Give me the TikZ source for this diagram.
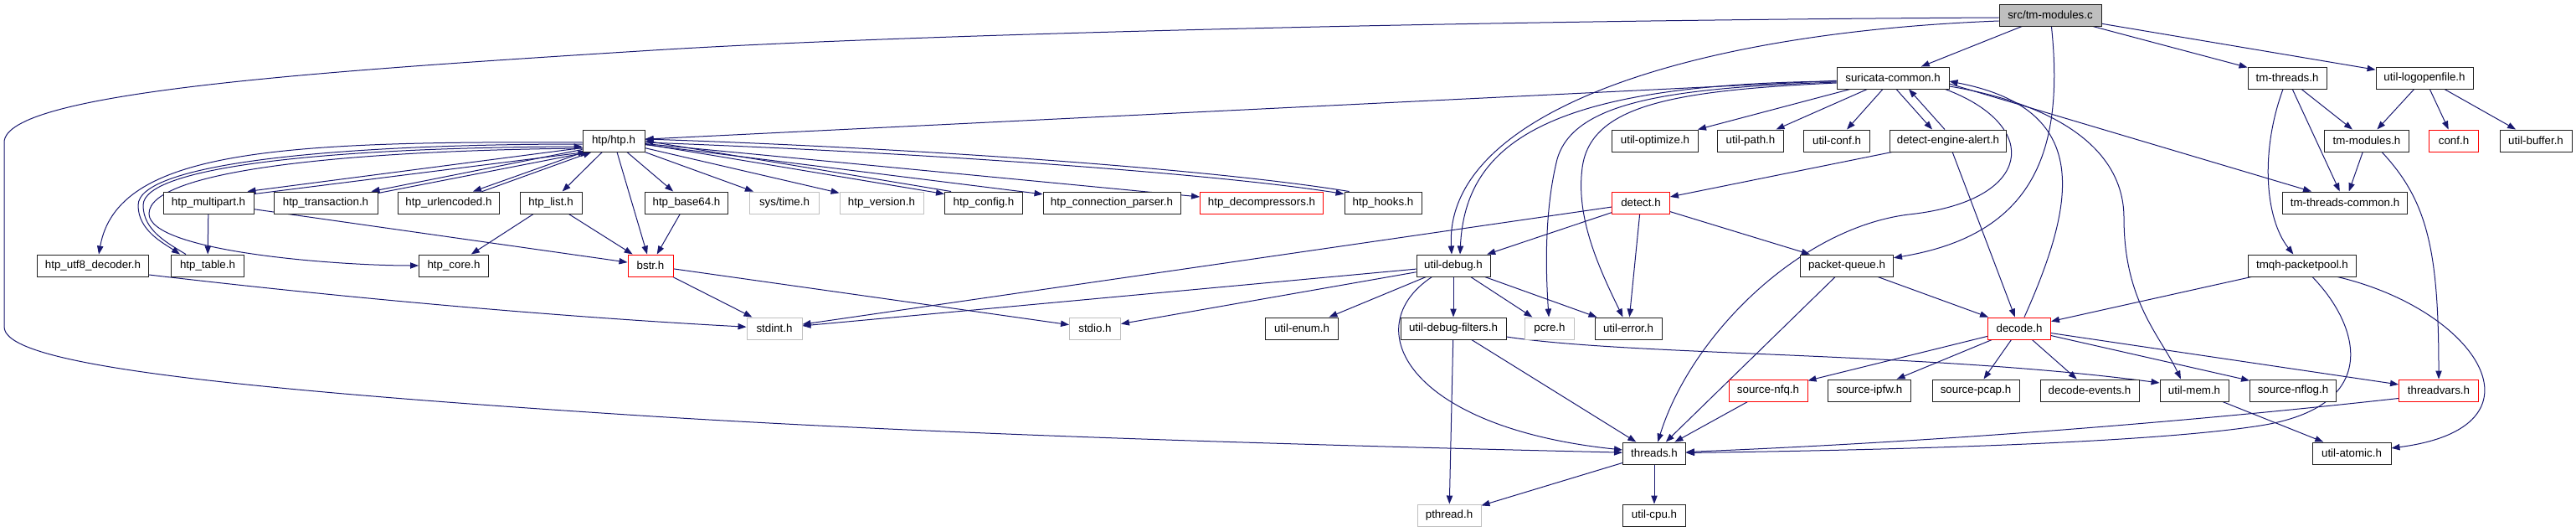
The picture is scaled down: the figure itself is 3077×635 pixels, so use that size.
\documentclass[tikz,border=0pt]{standalone}
\usepackage{fontspec}
\setmainfont{Liberation Sans}
\usetikzlibrary{arrows.meta,calc}
\definecolor{edgec}{HTML}{191970}
\definecolor{grayb}{HTML}{BFBFBF}
\definecolor{boxb}{HTML}{202020}
\pgfdeclarelayer{bg}
\pgfsetlayers{bg,main}
\begin{document}
\begin{tikzpicture}[x=0.75pt,y=-0.75pt,
  nb/.style={draw=boxb, line width=0.7pt, fill=white, minimum width=#1*0.75pt,
    minimum height=19.5pt, inner sep=0pt, font=\fontsize{10}{12}\selectfont},
  rb/.style={nb=#1, draw=red},
  gb/.style={nb=#1, draw=grayb},
  e/.style={draw=edgec, line width=0.75pt, -{Triangle[length=7.5pt,width=5.5pt]}}]
\useasboundingbox (0,0) rectangle (3077,635);
% row 0
\node[nb=122, fill=grayb] (root) at (2449,18) {src/tm-modules.c};
% row 1
\node[nb=134] (sc) at (2261,93) {suricata-common.h};
\node[nb=94] (tmt) at (2732,93) {tm-threads.h};
\node[nb=116] (ulo) at (2896,93) {util-logopenfile.h};
% row 2
\node[nb=74] (htp) at (733,168) {htp/htp.h};
\node[nb=103] (uopt) at (1977,168) {util-optimize.h};
\node[nb=79] (upath) at (2091,168) {util-path.h};
\node[nb=79] (uconf) at (2194,168) {util-conf.h};
\node[nb=139] (dea) at (2327,168) {detect-engine-alert.h};
\node[nb=101] (tmm) at (2827,168) {tm-modules.h};
\node[rb=59] (conf) at (2931,168) {conf.h};
\node[nb=86] (ubuf) at (3029,168) {util-buffer.h};
% row 3
\node[nb=108] (mp) at (249,242) {htp\_multipart.h};
\node[nb=124] (tr) at (389,242) {htp\_transaction.h};
\node[nb=121] (uenc) at (536,242) {htp\_urlencoded.h};
\node[nb=74] (hlist) at (658,242) {htp\_list.h};
\node[nb=99] (b64) at (820,242) {htp\_base64.h};
\node[gb=83] (systime) at (937,242) {sys/time.h};
\node[gb=100] (hver) at (1053,242) {htp\_version.h};
\node[nb=93] (hcfg) at (1175,242) {htp\_config.h};
\node[nb=164] (hcp) at (1328,242) {htp\_connection\_parser.h};
\node[rb=147] (hdec) at (1507,242) {htp\_decompressors.h};
\node[nb=92] (hhooks) at (1652,242) {htp\_hooks.h};
\node[rb=69] (det) at (1960,242) {detect.h};
\node[nb=149] (ttc) at (2801,242) {tm-threads-common.h};
% row 4
\node[nb=133] (utf8) at (111,317) {htp\_utf8\_decoder.h};
\node[nb=87] (tab) at (248,317) {htp\_table.h};
\node[nb=83] (core) at (542,317) {htp\_core.h};
\node[rb=54] (bstr) at (777,317) {bstr.h};
\node[nb=88] (ud) at (1736,317) {util-debug.h};
\node[nb=111] (pq) at (2206,317) {packet-queue.h};
\node[nb=129] (tmqh) at (2750,317) {tmqh-packetpool.h};
% row 5
\node[gb=66] (stdint) at (925,392) {stdint.h};
\node[gb=61] (stdio) at (1308,392) {stdio.h};
\node[nb=87] (uenum) at (1555,392) {util-enum.h};
\node[nb=126] (udf) at (1736,392) {util-debug-filters.h};
\node[gb=59] (pcre) at (1851,392) {pcre.h};
\node[nb=80] (uerr) at (1945,392) {util-error.h};
\node[rb=75] (dec) at (2412,392) {decode.h};
% row 6
\node[rb=94] (nfq) at (2112,466) {source-nfq.h};
\node[nb=99] (ipfw) at (2233,466) {source-ipfw.h};
\node[nb=104] (pcap) at (2360,466) {source-pcap.h};
\node[nb=118] (devents) at (2496,466) {decode-events.h};
\node[nb=82] (umem) at (2621,466) {util-mem.h};
\node[nb=103] (nflog) at (2739,466) {source-nflog.h};
\node[rb=95] (tv) at (2913,466) {threadvars.h};
% row 7
\node[nb=75] (thr) at (1976,541) {threads.h};
\node[nb=94] (uatom) at (2809,541) {util-atomic.h};
% row 8
\node[gb=76] (pth) at (1731,615) {pthread.h};
\node[nb=75] (ucpu) at (1976,615) {util-cpu.h};

\begin{pgfonlayer}{bg}
% root
\draw[e] (root) -- (sc);
\draw[e] (root) -- (tmt);
\draw[e] (root) -- (ulo);
\draw[e] (root) .. controls (2466,180) and (2430,280) .. (pq);
\draw[e] ($(root.west)+(0,7)$) .. controls (2000,40) and (1725,140) .. ($(ud.north)+(-2,0)$);
\draw[e] ($(root.west)+(0,3)$) .. controls (1800,24) and (1100,40) .. (780,60)
  .. controls (380,85) and (5,110) .. (5,170) -- (5,390)
  .. controls (5,430) and (200,460) .. (780,497)
  .. controls (1100,517) and (1500,530) .. (thr);
% suricata-common
\draw[e] (sc) -- (htp);
\draw[e] (sc) -- (uopt);
\draw[e] (sc) -- (upath);
\draw[e] (sc) -- (uconf);
\draw[e] ($(sc.south)+(4,0)$) -- ($(dea.north)+(-19,0)$);
\draw[e] ($(dea.north)+(-4,0)$) -- ($(sc.south)+(19,0)$);
\draw[e] ($(sc.west)+(0,4)$) .. controls (1850,100) and (1750,170) .. ($(ud.north)+(8,0)$);
\draw[e] ($(sc.west)+(0,5)$) .. controls (2000,105) and (1880,120) .. (1860,190)
  .. controls (1845,250) and (1846,320) .. (pcre);
\draw[e] ($(sc.west)+(0,6)$) .. controls (2000,108) and (1900,125) .. (1890,200)
  .. controls (1882,260) and (1910,320) .. (uerr);
\draw[e] ($(sc.south east)+(-5,0)$) .. controls (2440,150) and (2430,240) .. (2280,256)
  .. controls (2150,272) and (2020,400) .. (thr);
\draw[e] ($(sc.east)+(0,10)$) .. controls (2460,125) and (2537,180) .. (2537,260)
  .. controls (2537,360) and (2580,400) .. ($(umem.north)+(-16,0)$);
\draw[e] ($(sc.east)+(0,7)$) -- ($(ttc.north west)+(35,0)$);
% detect-engine-alert
\draw[e] (dea) -- (det);
\draw[e] (dea) -- (dec);
% tm-threads, util-logopenfile, tm-modules
\draw[e] (tmt) -- (tmm);
\draw[e] (tmt) -- (ttc);
\draw[e] ($(tmt.south)+(-5,0)$) .. controls (2700,180) and (2705,260) .. (tmqh);
\draw[e] (ulo) -- (tmm);
\draw[e] (ulo) -- (conf);
\draw[e] (ulo) -- (ubuf);
\draw[e] (tmm) -- (ttc);
\draw[e] ($(tmm.south)+(18,0)$) .. controls (2900,240) and (2913,300) .. (tv);
% htp/htp.h
\draw[e] ($(htp.south west)+(0,-5)$) -- ($(mp.north east)+(-8,0)$);
\draw[e] ($(mp.north east)+(0,3)$) -- ($(htp.south west)+(5,0)$);
\draw[e] ($(htp.south west)+(0,-3)$) -- ($(tr.north east)+(-8,0)$);
\draw[e] ($(tr.north east)+(0,2)$) -- ($(htp.south west)+(8,0)$);
\draw[e] ($(htp.south west)+(2,0)$) -- ($(uenc.north)+(29,0)$);
\draw[e] ($(uenc.north)+(40,0)$) -- ($(htp.south west)+(11,0)$);
\draw[e] (htp) -- (hlist);
\draw[e] ($(htp.west)+(0,2)$) .. controls (330,168) and (140,180) .. ($(utf8.north)+(7,0)$);
\draw[e] ($(htp.west)+(0,4)$) .. controls (400,172) and (165,195) .. (165,245)
  .. controls (165,275) and (195,290) .. ($(tab.north)+(-33,0)$);
\draw[e] ($(tab.north)+(-26,0)$) .. controls (200,290) and (171,275) .. (171,245)
  .. controls (171,198) and (400,176) .. ($(htp.west)+(0,7)$);
\draw[e] ($(htp.west)+(0,9)$) .. controls (400,180) and (178,205) .. (178,255)
  .. controls (178,300) and (400,317) .. (core);
\draw[e] (htp) -- (bstr);
\draw[e] (htp) -- (b64);
\draw[e] (htp) -- (systime);
\draw[e] (htp) -- (hver);
\draw[e] ($(htp.east)+(0,4)$) -- ($(hcfg.north west)+(0,3)$);
\draw[e] ($(hcfg.north west)+(8,0)$) -- (htp.east);
\draw[e] (htp) -- (hcp);
\draw[e] (htp) -- (hdec);
\draw[e] ($(htp.east)+(0,2)$) .. controls (1100,182) and (1450,207) .. ($(hhooks.north west)+(0,3)$);
\draw[e] ($(hhooks.north west)+(6,0)$) .. controls (1450,202) and (1100,177) .. ($(htp.east)+(0,-2)$);
% htp children
\draw[e] (mp) -- (tab);
\draw[e] (mp) -- (bstr);
\draw[e] (hlist) -- (core);
\draw[e] (hlist) -- (bstr);
\draw[e] (b64) -- (bstr);
\draw[e] (bstr) -- (stdint);
\draw[e] (bstr) -- (stdio);
\draw[e] ($(utf8.east)+(0,11)$) .. controls (450,360) and (700,380) .. (stdint);
% detect.h
\draw[e] (det) -- (ud);
\draw[e] (det) -- (uerr);
\draw[e] (det) -- (pq);
\draw[e] (det) -- (stdint);
% util-debug.h
\draw[e] (ud) -- (stdint);
\draw[e] (ud) -- (stdio);
\draw[e] (ud) -- (uenum);
\draw[e] (ud) -- (udf);
\draw[e] (ud) -- (pcre);
\draw[e] (ud) -- (uerr);
\draw[e] ($(ud.south west)+(19,0)$) .. controls (1620,390) and (1680,510) .. (thr);
% util-debug-filters.h
\draw[e] (udf) -- (pth);
\draw[e] (udf) -- (thr);
\draw[e] ($(udf.east)+(0,10)$) .. controls (1950,425) and (2300,420) .. ($(umem.west)+(0,-9)$);
% packet-queue.h
\draw[e] (pq) -- (thr);
\draw[e] (pq) -- (dec);
% decode.h
\draw[e] ($(dec.north)+(6,0)$) .. controls (2480,240) and (2500,130) .. ($(sc.east)+(0,4)$);
\draw[e] (dec) -- (nfq);
\draw[e] (dec) -- (ipfw);
\draw[e] (dec) -- (pcap);
\draw[e] (dec) -- (devents);
\draw[e] (dec) -- (nflog);
\draw[e] (dec) -- (tv);
% others
\draw[e] (nfq) -- (thr);
\draw[e] (thr) -- (pth);
\draw[e] (thr) -- (ucpu);
\draw[e] (tmqh) -- (dec);
\draw[e] ($(tmqh.south)+(12,0)$) .. controls (2820,390) and (2845,485) .. (2700,508)
  .. controls (2555,531) and (2200,538) .. (thr);
\draw[e] ($(tmqh.south east)+(-23,0)$) .. controls (2960,370) and (3050,510) .. (uatom);
\draw[e] ($(tv.south west)+(0,-4)$) .. controls (2600,505) and (2300,528) .. (thr);
\draw[e] (umem) -- (uatom);
\end{pgfonlayer}
\end{tikzpicture}
\end{document}
